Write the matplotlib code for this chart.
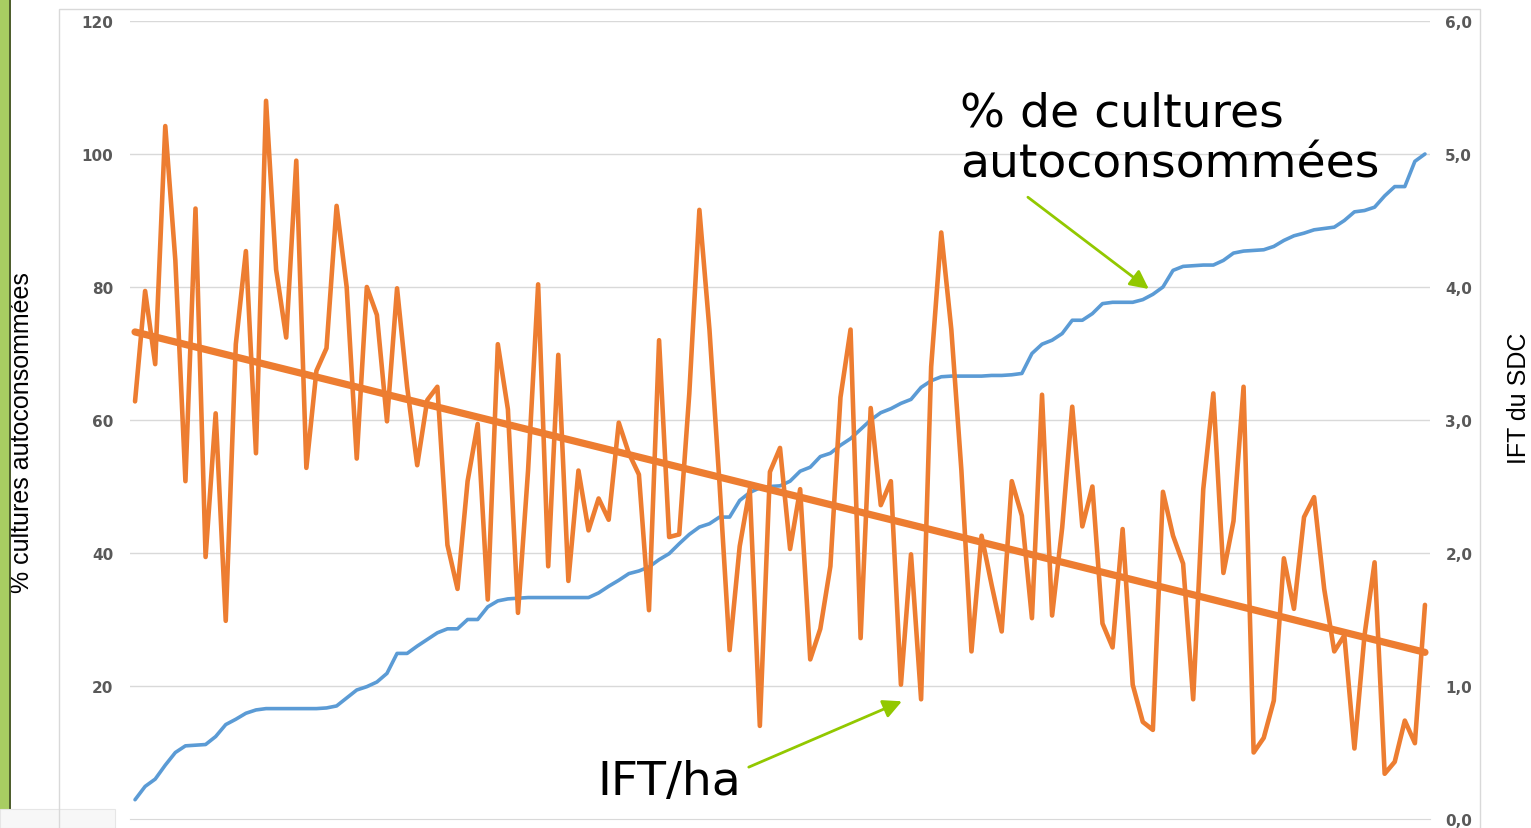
import numpy as np
import matplotlib.pyplot as plt
from matplotlib import font_manager
from matplotlib.patches import Rectangle

# % of crops self-consumed (left axis), sorted ascending
pct_autoconso = [
    2.9, 4.9, 6.0, 8.1, 10.0, 11.0, 11.1, 11.2, 12.4, 14.2,
    15.0, 15.9, 16.4, 16.6, 16.6, 16.6, 16.6, 16.6, 16.6, 16.7,
    17.0, 18.2, 19.4, 19.9, 20.6, 21.9, 24.9, 24.9, 26.0, 27.0,
    28.0, 28.6, 28.6, 30.0, 30.0, 31.9, 32.8, 33.1, 33.2, 33.3,
    33.3, 33.3, 33.3, 33.3, 33.3, 33.3, 34.0, 35.0, 35.9, 36.9,
    37.3, 37.9, 39.0, 39.9, 41.4, 42.8, 43.9, 44.4, 45.4, 45.4,
    47.9, 49.1, 49.8, 50.0, 50.1, 50.8, 52.3, 52.9, 54.5, 55.0,
    56.2, 57.2, 58.6, 60.0, 61.1, 61.7, 62.5, 63.1, 64.9, 65.9,
    66.5, 66.6, 66.6, 66.6, 66.6, 66.7, 66.7, 66.8, 67.0, 70.0,
    71.4, 72.0, 73.0, 75.0, 75.0, 76.0, 77.5, 77.7, 77.7, 77.7,
    78.1, 78.9, 80.0, 82.5, 83.1, 83.2, 83.3, 83.3, 84.0, 85.1,
    85.4, 85.5, 85.6, 86.1, 87.0, 87.7, 88.1, 88.6, 88.8, 89.0,
    90.0, 91.3, 91.5, 92.0, 93.7, 95.1, 95.1, 98.9, 100.0,
]

# IFT/ha of each farming system (right axis)
ift_ha = [
    3.14, 3.97, 3.42, 5.21, 4.20, 2.54, 4.59, 1.97, 3.05, 1.49,
    3.57, 4.27, 2.75, 5.40, 4.13, 3.62, 4.95, 2.64, 3.37, 3.54,
    4.61, 4.00, 2.71, 4.00, 3.79, 2.99, 3.99, 3.25, 2.66, 3.15,
    3.25, 2.06, 1.73, 2.54, 2.97, 1.65, 3.57, 3.08, 1.55, 2.62,
    4.02, 1.90, 3.49, 1.79, 2.62, 2.17, 2.41, 2.25, 2.98, 2.75,
    2.59, 1.57, 3.60, 2.12, 2.14, 3.20, 4.58, 3.68, 2.52, 1.27,
    2.05, 2.48, 0.70, 2.61, 2.79, 2.03, 2.48, 1.20, 1.43, 1.90,
    3.17, 3.68, 1.36, 3.09, 2.36, 2.54, 1.01, 1.99, 0.90, 3.40,
    4.41, 3.68, 2.62, 1.26, 2.13, 1.76, 1.41, 2.54, 2.28, 1.51,
    3.19, 1.53, 2.19, 3.10, 2.20, 2.50, 1.47, 1.29, 2.18, 1.01,
    0.73, 0.67, 2.46, 2.13, 1.92, 0.90, 2.48, 3.20, 1.85, 2.24,
    3.25, 0.50, 0.61, 0.89, 1.96, 1.58, 2.27, 2.42, 1.73, 1.26,
    1.38, 0.53, 1.38, 1.93, 0.34, 0.43, 0.74, 0.57, 1.61,
]

left_ticks = [20, 40, 60, 80, 100, 120]
right_ticks = [0, 1, 2, 3, 4, 5, 6]

# narrow font for the axis titles if there is one
installed = {f.name for f in font_manager.fontManager.ttflist}
if 'Liberation Sans Narrow' in installed:
    label_font, label_size = 'Liberation Sans Narrow', 21
else:
    label_font, label_size = 'Liberation Sans', 18

W, H = 1531, 829
fig = plt.figure(figsize=(W / 100, H / 100), dpi=100)

# slide decoration: green strip on the left and chart border
fig.patches.append(Rectangle((0, 0), 9 / W, 1, transform=fig.transFigure,
                             facecolor='#A8CD62', edgecolor='none'))
fig.patches.append(Rectangle((9 / W, 0), 1.5 / W, 1, transform=fig.transFigure,
                             facecolor='#4F5F2E', edgecolor='none'))
fig.patches.append(Rectangle((0, 0), 115 / W, 19 / H, transform=fig.transFigure,
                             facecolor='#F7F7F7', edgecolor='#E6E6E6', lw=0.8))
fig.patches.append(Rectangle((59 / W, -0.1), (1480 - 59) / W, 1.1 - 10 / H,
                             transform=fig.transFigure, facecolor='none',
                             edgecolor='#D9D9D9', lw=1))

ax = fig.add_axes([130 / W, 9 / H, 1300 / W, 798 / H])
ax.patch.set_alpha(0)
ax2 = ax.twinx()

x = np.arange(len(pct_autoconso))
ax.plot(x, pct_autoconso, color='#5B9BD5', lw=2.6, solid_joinstyle='round',
        solid_capstyle='round')
ax2.plot(x, ift_ha, color='#ED7D31', lw=3.3, solid_joinstyle='round',
         solid_capstyle='round')

# linear trend of IFT
coef = np.polyfit(x, ift_ha, 1)
ends = np.array([x[0], x[-1]])
ax2.plot(ends, np.polyval(coef, ends), color='#ED7D31', lw=5.2,
         solid_capstyle='round')

ax.set_xlim(-0.5, len(x) - 0.5)
ax.set_ylim(0, 120)
ax2.set_ylim(0, 6)
ax.set_xticks([])
ax.set_yticks(left_ticks)
ax2.set_yticks(right_ticks)
ax2.set_yticklabels([f'{v:.1f}'.replace('.', ',') for v in right_ticks])

ax.grid(axis='y', color='#D9D9D9', lw=1)
ax.set_axisbelow(True)
for a in (ax, ax2):
    for s in a.spines.values():
        s.set_visible(False)
ax.spines['bottom'].set_visible(True)
ax.spines['bottom'].set_color('#D9D9D9')

ax.tick_params(axis='y', length=0, pad=12, labelsize=11, labelcolor='#595959')
ax2.tick_params(axis='y', length=0, pad=11, labelsize=11, labelcolor='#595959')
for lbl in ax.get_yticklabels() + ax2.get_yticklabels():
    lbl.set_fontweight('bold')

ax.set_ylabel('% cultures autoconsommées', fontsize=label_size,
              family=label_font, va='center', ha='center')
ax.yaxis.set_label_coords(-0.083, 0.486)
ax2.set_ylabel('IFT du SDC', fontsize=label_size, family=label_font,
               rotation=90, va='center', ha='center')
ax2.yaxis.set_label_coords(1.0685, 0.529)

green = '#92C800'
ax.text(81.9, 109.5, '% de cultures\nautoconsommées', fontsize=34, va='top',
        ha='left', color='black', linespacing=1.15)
ax.annotate('', xy=(100.6, 79.7), xytext=(88.6, 93.5),
            arrowprops=dict(arrowstyle='-|>', color=green, lw=2,
                            mutation_scale=28, shrinkA=0, shrinkB=0))
ax.text(45.9, 3.8, 'IFT/ha', fontsize=34, va='baseline', ha='left',
        color='black')
ax.annotate('', xy=(76.1, 17.7), xytext=(60.9, 7.8),
            arrowprops=dict(arrowstyle='-|>', color=green, lw=2,
                            mutation_scale=28, shrinkA=0, shrinkB=0))

fig.savefig('out.png', dpi=100)
